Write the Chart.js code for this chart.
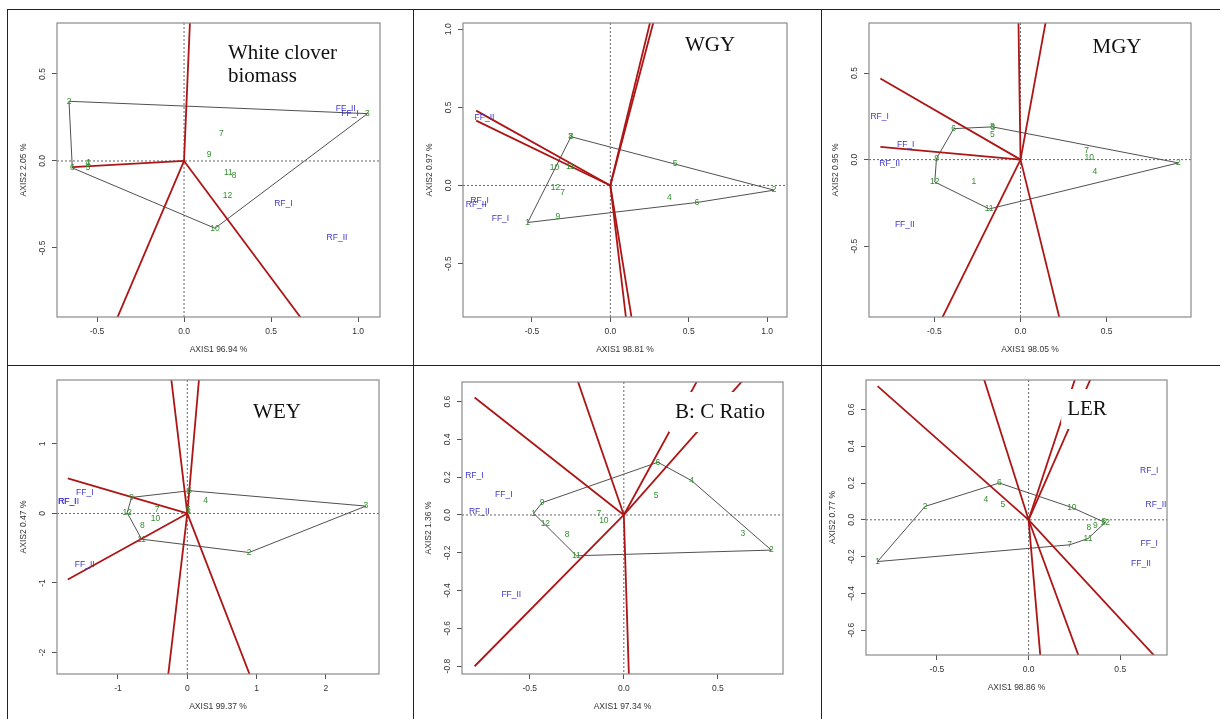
<!DOCTYPE html>
<html>
<head>
<meta charset="utf-8">
<script src="https://cdn.jsdelivr.net/npm/chart.js@4.4.0/dist/chart.umd.min.js"></script>
<style>
  body { margin: 0; background: #fff; width: 1220px; height: 719px; overflow: hidden; position: relative; }
  canvas { position: absolute; }
  .rule { position: absolute; background: #222; z-index: 2; }
</style>
</head>
<body>
<div class="rule" style="left:7px;top:9px;width:1213px;height:1px"></div>
<div class="rule" style="left:7px;top:365px;width:1213px;height:1px"></div>
<div class="rule" style="left:7px;top:9px;width:1px;height:710px"></div>
<div class="rule" style="left:413px;top:9px;width:1px;height:710px"></div>
<div class="rule" style="left:821px;top:9px;width:1px;height:710px"></div>

<script>
// genotype (1-12) and environment names, same in every biplot
const genoNames = ["1", "2", "3", "4", "5", "6", "7", "8", "9", "10", "11", "12"];
const envNames = ["FF_I", "FF_II", "RF_I", "RF_II"];

// <-- White clover biomass -->
const cloverGeno = [[-0.548, -0.008], [-0.661, 0.343], [1.054, 0.272], [-0.552, -0.011], [-0.552, -0.040], [-0.642, -0.040],
    [0.215, 0.157], [0.287, -0.084], [0.144, 0.034], [0.178, -0.387], [0.255, -0.069], [0.249, -0.199]];
const cloverEnv = [[0.954, 0.272], [0.929, 0.299], [0.571, -0.245], [0.879, -0.443]];
const cloverHull = [2, 3, 10, 6];
const cloverRays = [[0.034, 0.80], [-0.642, -0.036], [-0.383, -0.90], [0.670, -0.90]];
const cloverXTicks = [-0.5, 0, 0.5, 1];
const cloverYTicks = [-0.5, 0, 0.5];

// <-- WGY -->
const wgyGeno = [[-0.527, -0.237], [1.045, -0.030], [-0.255, 0.312], [0.376, -0.079], [0.414, 0.141], [0.552, -0.109],
    [-0.304, -0.047], [-0.251, 0.312], [-0.335, -0.197], [-0.357, 0.113], [-0.255, 0.120], [-0.350, -0.015]];
const wgyEnv = [[-0.701, -0.212], [-0.803, 0.436], [-0.834, -0.100], [-0.856, -0.122]];
const wgyHull = [8, 2, 6, 1];
const wgyRays = [[0.255, 1.05], [0.276, 1.05], [-0.856, 0.479], [-0.856, 0.415], [0.100, -0.85], [0.136, -0.85]];
const wgyXTicks = [-0.5, 0, 0.5, 1];
const wgyYTicks = [-0.5, 0, 0.5, 1];

// <-- MGY -->
const mgyGeno = [[-0.271, -0.125], [0.917, -0.019], [-0.160, 0.186], [0.432, -0.071], [-0.163, 0.145], [-0.388, 0.179],
    [0.384, 0.050], [-0.163, 0.189], [-0.488, 0.006], [0.399, 0.012], [-0.182, -0.285], [-0.498, -0.129]];
const mgyEnv = [[-0.667, 0.089], [-0.672, -0.374], [-0.818, 0.247], [-0.760, -0.023]];
const mgyHull = [6, 8, 2, 11, 12, 9];
const mgyRays = [[-0.012, 0.80], [0.147, 0.80], [-0.814, 0.468], [-0.814, 0.073], [-0.453, -0.91], [0.225, -0.91]];
const mgyXTicks = [-0.5, 0, 0.5];
const mgyYTicks = [-0.5, 0, 0.5];

// <-- WEY -->
const weyGeno = [[0.020, 0.045], [0.891, -0.562], [2.577, 0.106], [0.265, 0.183], [0.014, 0.058], [0.034, 0.327],
    [-0.434, 0.048], [-0.650, -0.178], [-0.804, 0.231], [-0.458, -0.072], [-0.660, -0.370], [-0.867, 0.010]];
const weyEnv = [[-1.479, 0.298], [-1.479, -0.730], [-1.734, 0.173], [-1.710, 0.173]];
const weyHull = [9, 6, 3, 2, 11, 12];
const weyRays = [[-0.231, 1.93], [0.169, 1.93], [-1.724, 0.504], [-1.724, -0.951], [-0.275, -2.32], [0.901, -2.32]];
const weyXTicks = [-1, 0, 1, 2];
const weyYTicks = [-2, -1, 0, 1];

// <-- B: C Ratio -->
const bcGeno = [[-0.479, 0.009], [0.784, -0.186], [0.633, -0.101], [0.360, 0.182], [0.172, 0.103], [0.181, 0.279],
    [-0.133, 0.005], [-0.301, -0.103], [-0.434, 0.065], [-0.106, -0.032], [-0.252, -0.216], [-0.417, -0.048]];
const bcEnv = [[-0.638, 0.106], [-0.598, -0.421], [-0.794, 0.209], [-0.768, 0.018]];
const bcHull = [6, 4, 2, 11, 1, 9];
const bcRays = [[-0.793, 0.622], [-0.245, 0.71], [0.39, 0.71], [0.63, 0.71], [-0.793, -0.801], [0.027, -0.85]];
const bcXTicks = [-0.5, 0, 0.5];
const bcYTicks = [-0.8, -0.6, -0.4, -0.2, 0, 0.2, 0.4, 0.6];

// <-- LER -->
const lerGeno = [[-0.824, -0.227], [-0.564, 0.073], [0.410, -0.010], [-0.233, 0.109], [-0.140, 0.082], [-0.160, 0.200],
    [0.224, -0.136], [0.329, -0.045], [0.364, -0.031], [0.236, 0.067], [0.324, -0.102], [0.418, -0.015]];
const lerEnv = [[0.658, -0.127], [0.613, -0.240], [0.658, 0.267], [0.695, 0.085]];
const lerHull = [1, 2, 6, 10, 12, 11, 7];
const lerRays = [[-0.824, 0.727], [-0.245, 0.77], [0.255, 0.77], [0.34, 0.77], [0.687, -0.74], [0.064, -0.74], [0.273, -0.74]];
const lerXTicks = [-0.5, 0, 0.5];
const lerYTicks = [-0.6, -0.4, -0.2, 0, 0.2, 0.4, 0.6];


const panels = [
    { title: ["White clover", "biomass"], xName: "AXIS1 96.94 %", yName: "AXIS2 2.05 %", geno: cloverGeno, env: cloverEnv,
      hull: cloverHull, rays: cloverRays, xTicks: cloverXTicks, yTicks: cloverYTicks, xr: [-0.73, 1.126], yr: [-0.897, 0.793], dec: 1 },
    { title: ["WGY"], xName: "AXIS1 98.81 %", yName: "AXIS2 0.97 %", geno: wgyGeno, env: wgyEnv,
      hull: wgyHull, rays: wgyRays, xTicks: wgyXTicks, yTicks: wgyYTicks, xr: [-0.94, 1.127], yr: [-0.842, 1.04], dec: 1 },
    { title: ["MGY"], xName: "AXIS1 98.05 %", yName: "AXIS2 0.95 %", geno: mgyGeno, env: mgyEnv,
      hull: mgyHull, rays: mgyRays, xTicks: mgyXTicks, yTicks: mgyYTicks, xr: [-0.88, 0.99], yr: [-0.909, 0.789], dec: 1 },
    { title: ["WEY"], xName: "AXIS1 99.37 %", yName: "AXIS2 0.47 %", geno: weyGeno, env: weyEnv,
      hull: weyHull, rays: weyRays, xTicks: weyXTicks, yTicks: weyYTicks, xr: [-1.88, 2.766], yr: [-2.31, 1.92], dec: 0 },
    { title: ["B: C Ratio"], xName: "AXIS1 97.34 %", yName: "AXIS2 1.36 %", geno: bcGeno, env: bcEnv,
      hull: bcHull, rays: bcRays, xTicks: bcXTicks, yTicks: bcYTicks, xr: [-0.86, 0.846], yr: [-0.842, 0.704], dec: 1 },
    { title: ["LER"], xName: "AXIS1 98.86 %", yName: "AXIS2 0.77 %", geno: lerGeno, env: lerEnv,
      hull: lerHull, rays: lerRays, xTicks: lerXTicks, yTicks: lerYTicks, xr: [-0.887, 0.755], yr: [-0.735, 0.76], dec: 1 }
];

// page cells and the plot box inside each (page pixels), title anchor is relative to the canvas
const cells = [
    { left: 8, top: 10, w: 405, h: 355, box: [57, 23, 380, 317], titleAt: [220, 43], align: "left" },
    { left: 414, top: 10, w: 407, h: 355, box: [463, 23, 787, 317], titleAt: [296, 35], align: "center" },
    { left: 822, top: 10, w: 398, h: 355, box: [869, 23, 1191, 317], titleAt: [295, 37], align: "center" },
    { left: 8, top: 366, w: 405, h: 353, box: [57, 380, 379, 674], titleAt: [269, 46], align: "center" },
    { left: 414, top: 366, w: 407, h: 353, box: [462, 382, 783, 674], titleAt: [306, 46], align: "center" },
    { left: 822, top: 366, w: 398, h: 353, box: [866, 380, 1167, 655], titleAt: [265, 43], align: "center" }
];

const yAxisW = 38;
const xAxisH = 38;
const smallFont = { family: "'Liberation Sans', Arial, sans-serif", size: 8.5 };
const rayColor = "#ad1616";
const genoColor = "#338f2e";
const envColor = "#3c35c8";

const fmt = (v, dec) => (Math.abs(v) < 1e-9 ? 0 : v).toFixed(dec);

// draws dotted zero lines, text labels, the box, rotated y tick labels and the title
const makeDecor = (p, cell) => ({
    id: "biplotDecor",
    beforeDatasetsDraw(chart) {
        const { ctx, chartArea: a, scales: { x, y } } = chart;
        const x0 = x.getPixelForValue(0);
        const y0 = y.getPixelForValue(0);
        ctx.save();
        ctx.strokeStyle = "#666";
        ctx.lineWidth = 1;
        ctx.setLineDash([2, 2]);
        ctx.beginPath();
        ctx.moveTo(a.left, y0); ctx.lineTo(a.right, y0);
        ctx.moveTo(x0, a.top); ctx.lineTo(x0, a.bottom);
        ctx.stroke();
        ctx.restore();
    },
    afterDatasetsDraw(chart) {
        const { ctx } = chart;
        ctx.save();
        ctx.font = "8.5px 'Liberation Sans', Arial, sans-serif";
        ctx.textAlign = "center";
        ctx.textBaseline = "middle";
        chart.data.datasets.forEach((ds, i) => {
            if (!ds.labels) return;
            ctx.fillStyle = ds.labelColor;
            chart.getDatasetMeta(i).data.forEach((pt, j) => ctx.fillText(ds.labels[j], pt.x, pt.y));
        });

        // title with a white patch behind it
        ctx.font = "21px 'Liberation Serif', 'Times New Roman', serif";
        const widths = p.title.map(t => ctx.measureText(t).width);
        const maxW = Math.max(...widths);
        const lineH = 23;
        const [tx, ty] = cell.titleAt;
        const left = cell.align === "left" ? tx - 4 : tx - maxW / 2 - 6;
        const top = p.title.length > 1 ? ty - 16 : ty - 20;
        const h = p.title.length > 1 ? lineH * (p.title.length - 1) + 32 : 40;
        ctx.fillStyle = "#fff";
        ctx.fillRect(left, top, maxW + 12, h);
        ctx.fillStyle = "#111";
        ctx.textAlign = cell.align;
        p.title.forEach((t, k) => ctx.fillText(t, tx, ty + k * lineH));
        ctx.restore();
    },
    afterDraw(chart) {
        const { ctx, chartArea: a, scales: { y } } = chart;
        ctx.save();
        ctx.strokeStyle = "#8a8a8a";
        ctx.lineWidth = 1.2;
        ctx.strokeRect(a.left, a.top, a.right - a.left, a.bottom - a.top);

        ctx.fillStyle = "#333";
        ctx.font = "8.5px 'Liberation Sans', Arial, sans-serif";
        ctx.textAlign = "center";
        ctx.textBaseline = "middle";
        y.ticks.forEach(t => {
            ctx.save();
            ctx.translate(a.left - 14, y.getPixelForValue(t.value));
            ctx.rotate(-Math.PI / 2);
            ctx.fillText(fmt(t.value, p.dec), 0, 0);
            ctx.restore();
        });
        ctx.restore();
    }
});

panels.forEach((p, n) => {
    const cell = cells[n];
    const canvas = document.createElement("canvas");
    canvas.width = cell.w;
    canvas.height = cell.h;
    canvas.style.left = cell.left + "px";
    canvas.style.top = cell.top + "px";
    document.body.appendChild(canvas);

    const pt = ([x, y]) => ({ x, y });

    const rayData = p.rays.map(r => ({
        data: [{ x: 0, y: 0 }, pt(r)],
        showLine: true,
        borderColor: rayColor,
        borderWidth: 1.8,
        pointRadius: 0,
        order: 0
    }));

    const hullPts = p.hull.concat(p.hull[0]).map(g => pt(p.geno[g - 1]));

    const datasets = rayData.concat([
        { data: hullPts, showLine: true, borderColor: "#505050", borderWidth: 1, pointRadius: 0, order: 1 },
        { data: p.geno.map(pt), pointRadius: 0, labels: genoNames, labelColor: genoColor, order: 2 },
        { data: p.env.map(pt), pointRadius: 0, labels: envNames, labelColor: envColor, order: 2 }
    ]);

    const [bl, bt, br, bb] = cell.box;

    new Chart(canvas, {
        type: "scatter",
        data: { datasets },
        options: {
            responsive: false,
            animation: false,
            devicePixelRatio: 1,
            layout: {
                padding: {
                    left: bl - cell.left - yAxisW,
                    top: bt - cell.top,
                    right: cell.left + cell.w - br,
                    bottom: cell.top + cell.h - bb - xAxisH
                }
            },
            plugins: {
                legend: { display: false },
                tooltip: { enabled: false }
            },
            scales: {
                x: {
                    type: "linear",
                    min: p.xr[0],
                    max: p.xr[1],
                    afterBuildTicks: s => { s.ticks = p.xTicks.map(v => ({ value: v })); },
                    afterFit: s => { s.height = xAxisH; },
                    grid: { drawOnChartArea: false, tickLength: 5, tickColor: "#555" },
                    border: { display: false },
                    ticks: { color: "#333", font: smallFont, padding: 5, maxRotation: 0, autoSkip: false,
                        callback: v => fmt(v, p.dec) },
                    title: { display: true, text: p.xName, color: "#333", font: smallFont, padding: 0 }
                },
                y: {
                    type: "linear",
                    min: p.yr[0],
                    max: p.yr[1],
                    afterBuildTicks: s => { s.ticks = p.yTicks.map(v => ({ value: v })); },
                    afterFit: s => { s.width = yAxisW; },
                    grid: { drawOnChartArea: false, tickLength: 5, tickColor: "#555" },
                    border: { display: false },
                    ticks: { display: false },
                    title: { display: true, text: p.yName, color: "#333", font: smallFont, padding: 0 }
                }
            }
        },
        plugins: [makeDecor(p, cell)]
    });
});
</script>
</body>
</html>
